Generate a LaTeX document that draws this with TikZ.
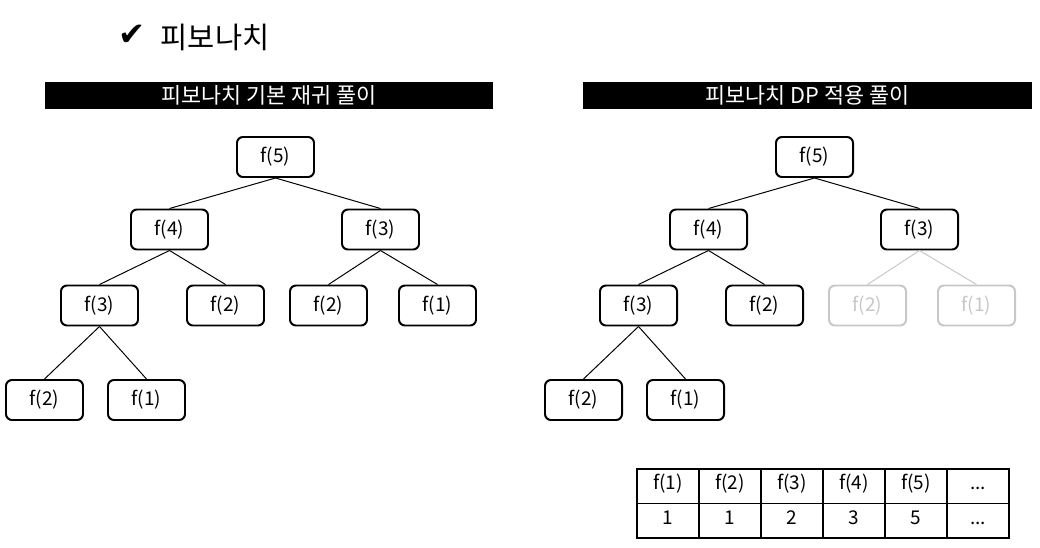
\documentclass[tikz,border=0pt]{standalone}
\usepackage{fontspec}
\setmainfont{Noto Sans CJK KR}
\newfontfamily\symfont{DejaVu Sans}
\usetikzlibrary{positioning}

\begin{document}
\begin{tikzpicture}[
        x=0.025cm, y=-0.025cm,
        fnode/.style={
            draw,
            rounded corners=0.15cm,
            line width=1.4pt,
            minimum width=1.925cm,
            minimum height=1cm,
            inner sep=0pt,
            font=\fontsize{13.5}{15}\selectfont
        },
        faded/.style={
            fnode,
            draw=black!22,
            text=black!22
        },
        edge/.style={
            line width=0.7pt
        },
        fadededge/.style={
            line width=0.7pt,
            draw=black!22
        },
        bar/.style={
            fill=black,
            text=white,
            minimum width=11.2cm,
            minimum height=0.675cm,
            inner sep=0pt,
            font=\fontsize{15.5}{17}\selectfont
        },
        cell/.style={
            draw,
            line width=0.9pt,
            minimum width=1.55cm,
            minimum height=0.8625cm,
            inner sep=0pt,
            outer sep=0pt,
            text height=0.75em,
            text depth=0.22em,
            font=\fontsize{13.5}{15}\selectfont
        },
        node distance=0pt
    ]

        \useasboundingbox (0,0) rectangle (1040,547);

        % title
        \node (check) at (132,35) {\symfont\fontsize{23}{25}\selectfont ✔};
        \node (title) at (215,37) {\fontsize{21}{24}\selectfont 피보나치};

        % headers
        \node[bar] (lefthead) at (269,95.5) {피보나치 기본 재귀 풀이};
        \node[bar] (righthead) at (807.5,95.5) {피보나치 DP 적용 풀이};

        % left tree: plain recursion
        \node[fnode] (l5) at (275.5,157) {f(5)};
        \node[fnode] (l4) at (169.5,229.5) {f(4)};
        \node[fnode] (l3) at (380.5,229.5) {f(3)};
        \node[fnode] (l43) at (99.5,305.5) {f(3)};
        \node[fnode] (l42) at (225.5,305.5) {f(2)};
        \node[fnode] (l32) at (328.5,305.5) {f(2)};
        \node[fnode] (l31) at (437.5,305.5) {f(1)};
        \node[fnode] (l432) at (44.5,400) {f(2)};
        \node[fnode] (l431) at (146.5,400) {f(1)};

        \draw[edge] (l5.south) -- (l4.north);
        \draw[edge] (l5.south) -- (l3.north);
        \draw[edge] (l4.south) -- (l43.north);
        \draw[edge] (l4.south) -- (l42.north);
        \draw[edge] (l3.south) -- (l32.north);
        \draw[edge] (l3.south) -- (l31.north);
        \draw[edge] (l43.south) -- (l432.north);
        \draw[edge] (l43.south) -- (l431.north);

        % right tree: with DP
        \node[fnode] (r5) at (814.5,157) {f(5)};
        \node[fnode] (r4) at (708.5,229.5) {f(4)};
        \node[fnode] (r3) at (919.5,229.5) {f(3)};
        \node[fnode] (r43) at (638.5,305.5) {f(3)};
        \node[fnode] (r42) at (764.5,305.5) {f(2)};
        \node[faded] (r32) at (867.5,305.5) {f(2)};
        \node[faded] (r31) at (976.5,305.5) {f(1)};
        \node[fnode] (r432) at (583.5,400) {f(2)};
        \node[fnode] (r431) at (685.5,400) {f(1)};

        \draw[edge] (r5.south) -- (r4.north);
        \draw[edge] (r5.south) -- (r3.north);
        \draw[edge] (r4.south) -- (r43.north);
        \draw[edge] (r4.south) -- (r42.north);
        \draw[fadededge] (r3.south) -- (r32.north);
        \draw[fadededge] (r3.south) -- (r31.north);
        \draw[edge] (r43.south) -- (r432.north);
        \draw[edge] (r43.south) -- (r431.north);

        % memo table
        \node[cell] (k1) at (668,486.2) {f(1)};
        \node[cell, right=of k1] (k2) {f(2)};
        \node[cell, right=of k2] (k3) {f(3)};
        \node[cell, right=of k3] (k4) {f(4)};
        \node[cell, right=of k4] (k5) {f(5)};
        \node[cell, right=of k5] (kx) {...};
        \node[cell, below=of k1] (v1) {1};
        \node[cell, below=of k2] (v2) {1};
        \node[cell, below=of k3] (v3) {2};
        \node[cell, below=of k4] (v4) {3};
        \node[cell, below=of k5] (v5) {5};
        \node[cell, below=of kx] (vx) {...};

    \end{tikzpicture}
\end{document}
